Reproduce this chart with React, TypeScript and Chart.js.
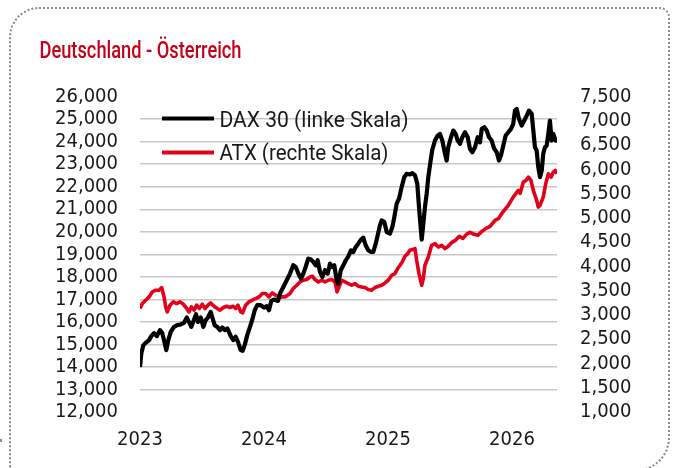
import React, { useEffect, useRef } from "react";
import { Chart, registerables } from "chart.js";

Chart.register(...registerables);

const chartTitle = "Deutschland - Österreich";
const seriesLabels = ["DAX 30 (linke Skala)", "ATX (rechte Skala)"];
const yearTicks = [2023, 2024, 2025, 2026];

const daxDates = [
  2023.0, 2023.011, 2023.027, 2023.046, 2023.073, 2023.091, 2023.113, 2023.135, 2023.161, 2023.18,
  2023.199, 2023.212, 2023.228, 2023.248, 2023.274, 2023.301, 2023.328, 2023.355, 2023.377, 2023.395,
  2023.414, 2023.436, 2023.452, 2023.468, 2023.49, 2023.511, 2023.53, 2023.548, 2023.57, 2023.586,
  2023.602, 2023.623, 2023.645, 2023.664, 2023.683, 2023.704, 2023.732, 2023.752, 2023.772, 2023.79,
  2023.812, 2023.828, 2023.844, 2023.865, 2023.887, 2023.906, 2023.925, 2023.946, 2023.973, 2024.0,
  2024.022, 2024.04, 2024.059, 2024.081, 2024.113, 2024.129, 2024.156, 2024.183, 2024.21, 2024.236,
  2024.256, 2024.277, 2024.298, 2024.317, 2024.336, 2024.357, 2024.379, 2024.398, 2024.417, 2024.433,
  2024.452, 2024.47, 2024.492, 2024.514, 2024.532, 2024.551, 2024.567, 2024.586, 2024.599, 2024.619,
  2024.64, 2024.659, 2024.68, 2024.702, 2024.72, 2024.74, 2024.76, 2024.782, 2024.801, 2024.82,
  2024.841, 2024.863, 2024.881, 2024.901, 2024.917, 2024.935, 2024.949, 2024.97, 2024.99, 2025.016,
  2025.035, 2025.051, 2025.07, 2025.089, 2025.11, 2025.131, 2025.151, 2025.177, 2025.196, 2025.218,
  2025.236, 2025.252, 2025.272, 2025.285, 2025.298, 2025.312, 2025.325, 2025.344, 2025.357, 2025.379,
  2025.401, 2025.419, 2025.438, 2025.454, 2025.473, 2025.486, 2025.508, 2025.527, 2025.546, 2025.562,
  2025.581, 2025.599, 2025.621, 2025.643, 2025.661, 2025.68, 2025.702, 2025.723, 2025.742, 2025.756,
  2025.777, 2025.796, 2025.815, 2025.836, 2025.857, 2025.877, 2025.895, 2025.911, 2025.93, 2025.949,
  2025.97, 2025.992, 2026.01, 2026.024, 2026.038, 2026.056, 2026.078, 2026.099, 2026.119, 2026.137,
  2026.159, 2026.172, 2026.185, 2026.199, 2026.212, 2026.226, 2026.24, 2026.252, 2026.266, 2026.28,
  2026.293, 2026.306, 2026.32, 2026.333, 2026.352, 2026.363,
];

const daxValues = [
  14000, 14614, 14968, 15070, 15190, 15367, 15500, 15367, 15633, 15500,
  15057, 14747, 15190, 15557, 15779, 15854, 15885, 15956, 16195, 16000,
  15779, 16107, 16341, 16000, 16195, 15779, 16076, 16195, 16443, 16151,
  15854, 15779, 15633, 15752, 15633, 15708, 15367, 15190, 15336, 15114,
  14747, 14716, 14968, 15411, 15779, 16107, 16519, 16740, 16740, 16638,
  16696, 16519, 16931, 16993, 16931, 17258, 17551, 17848, 18144, 18512,
  18437, 18144, 17923, 18144, 18437, 18809, 18765, 18658, 18512, 18734,
  18215, 17994, 18291, 18144, 18587, 18437, 18512, 17848, 17701, 18291,
  18512, 18734, 18911, 19177, 19101, 19323, 19473, 19651, 19739, 19398,
  19177, 19101, 19101, 19473, 19841, 20284, 20506, 20430, 19987, 19916,
  20209, 20652, 21245, 21467, 21981, 22424, 22574, 22543, 22601, 22499,
  22145, 20949, 19651, 20359, 21095, 21688, 22424, 23164, 23638, 24050,
  24271, 24346, 24050, 23607, 23164, 23753, 24196, 24493, 24346, 24050,
  23903, 24196, 24417, 24196, 23682, 23531, 23753, 24196, 23974, 24568,
  24639, 24493, 24196, 24050, 23682, 23531, 23164, 23385, 23828, 24271,
  24417, 24568, 24789, 25379, 25454, 25011, 24714, 24936, 25157, 25379,
  25232, 24493, 23753, 23607, 22867, 22424, 22721, 23460, 23753, 23828,
  24346, 24936, 24050, 24346, 24050, 24050,
];

const atxDates = [
  2023.0, 2023.019, 2023.046, 2023.073, 2023.099, 2023.127, 2023.153, 2023.175, 2023.194, 2023.207,
  2023.22, 2023.242, 2023.269, 2023.296, 2023.323, 2023.349, 2023.377, 2023.395, 2023.414, 2023.436,
  2023.457, 2023.478, 2023.502, 2023.524, 2023.548, 2023.57, 2023.597, 2023.623, 2023.645, 2023.672,
  2023.699, 2023.726, 2023.752, 2023.772, 2023.79, 2023.812, 2023.828, 2023.852, 2023.879, 2023.906,
  2023.933, 2023.96, 2023.986, 2024.014, 2024.04, 2024.067, 2024.094, 2024.129, 2024.169, 2024.21,
  2024.236, 2024.264, 2024.29, 2024.317, 2024.344, 2024.371, 2024.39, 2024.411, 2024.438, 2024.465,
  2024.492, 2024.519, 2024.546, 2024.573, 2024.589, 2024.605, 2024.627, 2024.653, 2024.68, 2024.707,
  2024.734, 2024.76, 2024.788, 2024.815, 2024.841, 2024.869, 2024.895, 2024.922, 2024.949, 2024.976,
  2025.002, 2025.03, 2025.056, 2025.078, 2025.097, 2025.115, 2025.137, 2025.159, 2025.177, 2025.196,
  2025.218, 2025.231, 2025.25, 2025.272, 2025.285, 2025.298, 2025.325, 2025.352, 2025.379, 2025.406,
  2025.433, 2025.46, 2025.486, 2025.516, 2025.544, 2025.575, 2025.605, 2025.633, 2025.661, 2025.694,
  2025.726, 2025.758, 2025.79, 2025.823, 2025.863, 2025.89, 2025.917, 2025.944, 2025.97, 2026.01,
  2026.051, 2026.065, 2026.091, 2026.113, 2026.132, 2026.153, 2026.172, 2026.199, 2026.212, 2026.226,
  2026.252, 2026.272, 2026.293, 2026.315, 2026.333, 2026.35, 2026.363,
];

const atxValues = [
  3133, 3236, 3304, 3372, 3475, 3510, 3510, 3565, 3372, 3166,
  3063, 3201, 3269, 3236, 3269, 3222, 3133, 3063, 3166, 3098,
  3201, 3133, 3222, 3133, 3201, 3248, 3180, 3133, 3098, 3154,
  3180, 3154, 3180, 3133, 3201, 3063, 3043, 3201, 3269, 3304,
  3339, 3372, 3442, 3442, 3372, 3454, 3407, 3372, 3372, 3442,
  3544, 3612, 3680, 3715, 3730, 3783, 3798, 3730, 3680, 3715,
  3680, 3715, 3730, 3680, 3475, 3577, 3715, 3680, 3647, 3612,
  3647, 3592, 3577, 3565, 3524, 3510, 3565, 3592, 3612, 3660,
  3715, 3818, 3853, 3956, 4024, 4092, 4209, 4264, 4332, 4347,
  4367, 4127, 3853, 3612, 3756, 4024, 4195, 4435, 4470, 4400,
  4435, 4367, 4415, 4497, 4538, 4620, 4579, 4661, 4703, 4661,
  4641, 4723, 4785, 4826, 4949, 4984, 5087, 5176, 5258, 5429,
  5567, 5505, 5737, 5772, 5840, 5772, 5567, 5361, 5223, 5258,
  5429, 5704, 5910, 5840, 5943, 5978, 5910,
];

const leftTicks = { min: 12000, max: 26000, step: 1000 };
const rightTicks = { min: 1000, max: 7500, step: 500 };

const DAX_COLOR = "#000000";
const ATX_COLOR = "#e2001a";
const TITLE_COLOR = "#c5001a";
const TEXT_COLOR = "#1a1a1a";
const GRID_COLOR = "#c8c8c8";
const TICK_FONT = "'DejaVu Sans Condensed', 'DejaVu Sans', sans-serif";
const LABEL_FONT = "Roboto, 'Liberation Sans', sans-serif";

const fmt = (v: number) => v.toLocaleString("en-US");

function drawFitted(ctx: CanvasRenderingContext2D, text: string, x: number, y: number, width: number) {
  const w = ctx.measureText(text).width;
  ctx.save();
  ctx.translate(x, y);
  ctx.scale(width / w, 1);
  ctx.fillText(text, 0, 0);
  ctx.restore();
}

const overlayPlugin = {
  id: "overlay",
  afterDraw(chart: any) {
    const ctx: CanvasRenderingContext2D = chart.ctx;
    ctx.save();
    ctx.textAlign = "left";
    ctx.textBaseline = "alphabetic";
    ctx.fillStyle = TITLE_COLOR;
    ctx.font = `500 23.5px ${LABEL_FONT}`;
    drawFitted(ctx, chartTitle, 39.5, 57.5, 202);

    const rows = [
      { y: 118.5, base: 126.7, w: 189 },
      { y: 152.5, base: 160.2, w: 169 },
    ];
    chart.data.datasets.forEach((ds: any, i: number) => {
      const r = rows[i];
      ctx.strokeStyle = ds.borderColor;
      ctx.lineWidth = 4;
      ctx.lineCap = "butt";
      ctx.beginPath();
      ctx.moveTo(162, r.y);
      ctx.lineTo(214, r.y);
      ctx.stroke();
      ctx.fillStyle = TEXT_COLOR;
      ctx.font = `22px ${LABEL_FONT}`;
      drawFitted(ctx, ds.label, 219.5, r.base, r.w);
    });
    ctx.restore();
  },
};

export default function App() {
  const ref = useRef<HTMLCanvasElement | null>(null);

  useEffect(() => {
    if (!ref.current) return;
    const chart = new Chart(ref.current, {
      type: "line",
      data: {
        datasets: [
          {
            label: seriesLabels[0],
            data: daxDates.map((d, i) => ({ x: d, y: daxValues[i] })),
            borderColor: DAX_COLOR,
            backgroundColor: DAX_COLOR,
            borderWidth: 4.2,
            pointRadius: 0,
            tension: 0,
            borderJoinStyle: "round",
            yAxisID: "yL",
          },
          {
            label: seriesLabels[1],
            data: atxDates.map((d, i) => ({ x: d, y: atxValues[i] })),
            borderColor: ATX_COLOR,
            backgroundColor: ATX_COLOR,
            borderWidth: 3.6,
            pointRadius: 0,
            tension: 0,
            borderJoinStyle: "round",
            yAxisID: "yR",
          },
        ],
      },
      options: {
        responsive: false,
        animation: false,
        events: [],
        layout: { padding: { top: 96.6, left: 0, right: 0, bottom: 0 } },
        plugins: {
          legend: { display: false },
          title: { display: false },
          tooltip: { enabled: false },
        },
        scales: {
          x: {
            type: "linear",
            min: yearTicks[0],
            max: 2026.363,
            afterFit: (s: any) => {
              s.height = 56;
            },
            afterBuildTicks: (s: any) => {
              s.ticks = yearTicks.map((v) => ({ value: v }));
            },
            grid: { display: false, drawTicks: false },
            border: { display: false },
            ticks: {
              stepSize: 1,
              autoSkip: false,
              maxRotation: 0,
              padding: 16,
              color: TEXT_COLOR,
              font: { family: TICK_FONT, size: 20 },
              callback: (v: any) => String(v),
            },
          },
          yL: {
            type: "linear",
            position: "left",
            min: leftTicks.min,
            max: leftTicks.max,
            afterFit: (s: any) => {
              s.width = 140;
            },
            border: { display: false },
            grid: {
              drawTicks: false,
              lineWidth: 1.4,
              color: (c: any) =>
                c.tick && (c.tick.value === leftTicks.min || c.tick.value === leftTicks.max)
                  ? "rgba(0,0,0,0)"
                  : GRID_COLOR,
            },
            ticks: {
              stepSize: leftTicks.step,
              autoSkip: false,
              padding: 22,
              color: TEXT_COLOR,
              font: { family: TICK_FONT, size: 20 },
              callback: (v: any) => fmt(Number(v)),
            },
          },
          yR: {
            type: "linear",
            position: "right",
            min: rightTicks.min,
            max: rightTicks.max,
            afterFit: (s: any) => {
              s.width = 119;
            },
            border: { display: false },
            grid: { display: false, drawTicks: false },
            ticks: {
              stepSize: rightTicks.step,
              autoSkip: false,
              padding: 23,
              color: TEXT_COLOR,
              font: { family: TICK_FONT, size: 20 },
              callback: (v: any) => fmt(Number(v)),
            },
          },
        },
      },
      plugins: [overlayPlugin],
    } as any);
    return () => chart.destroy();
  }, []);

  return (
    <div style={{ position: "fixed", left: 0, top: 0, width: 676, height: 468, overflow: "hidden", background: "#fff" }}>
      <div
        style={{
          position: "absolute",
          left: 9,
          top: 7,
          width: 661,
          height: 464,
          boxSizing: "border-box",
          border: "2px dotted #8a8a8a",
          borderRadius: "30px 10px 33px 0px",
        }}
      />
      <div style={{ position: "absolute", left: 0, top: 439, width: 2, height: 3, background: "#8a8a8a" }} />
      <canvas ref={ref} width={676} height={468} style={{ position: "absolute", left: 0, top: 0, width: 676, height: 468 }} />
    </div>
  );
}
